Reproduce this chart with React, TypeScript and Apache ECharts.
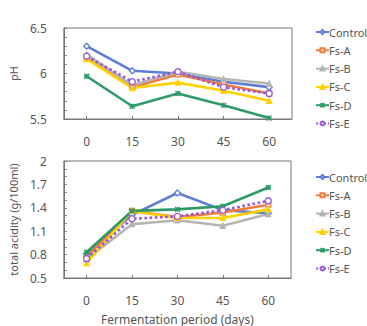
import React, { useEffect, useRef } from "react";
import * as echarts from "echarts";

// Fermentation days (category axis)
const days = ["0", "15", "30", "45", "60"];
const seriesNames = ["Control", "Fs-A", "Fs-B", "Fs-C", "Fs-D", "Fs-E"];

// pH by treatment
const phControl = [6.3, 6.03, 6.0, 5.91, 5.85];
const phFsA = [6.17, 5.85, 5.99, 5.88, 5.78];
const phFsB = [6.21, 5.87, 6.02, 5.94, 5.89];
const phFsC = [6.16, 5.84, 5.9, 5.81, 5.7];
const phFsD = [5.97, 5.64, 5.78, 5.65, 5.51];
const phFsE = [6.19, 5.91, 6.02, 5.85, 5.78];

// total acidity (g/100ml) by treatment
const taControl = [0.81, 1.31, 1.59, 1.37, 1.33];
const taFsA = [0.77, 1.36, 1.28, 1.34, 1.44];
const taFsB = [0.74, 1.19, 1.24, 1.17, 1.32];
const taFsC = [0.69, 1.36, 1.27, 1.27, 1.38];
const taFsD = [0.83, 1.36, 1.38, 1.42, 1.66];
const taFsE = [0.75, 1.26, 1.29, 1.37, 1.49];

// axis tick labels and minor ticks
const phLabels = [5.5, 6, 6.5];
const phTicks = [5.5, 5.6, 5.7, 5.8, 5.9, 6.0, 6.1, 6.2, 6.3, 6.4, 6.5];
const taLabels = [0.5, 0.8, 1.1, 1.4, 1.7, 2];
const taTicks = [0.5, 0.6, 0.7, 0.8, 0.9, 1.0, 1.1, 1.2, 1.3, 1.4, 1.5, 1.6, 1.7, 1.8, 1.9, 2.0];

const FONT = "'Noto Sans', sans-serif";
const TEXT = "#555";
const FRAME = "#777";

type Style = {
  color: string;
  symbol: string;
  symbolSize: number;
  fill: string;
  dotted?: boolean;
};

const styles: Style[] = [
  { color: "#5b7fd6", symbol: "diamond", symbolSize: 6, fill: "#ffffff" },
  { color: "#f07c3c", symbol: "rect", symbolSize: 5, fill: "#ffffff" },
  { color: "#b4b4b4", symbol: "triangle", symbolSize: 5, fill: "#b4b4b4" },
  { color: "#ffd000", symbol: "triangle", symbolSize: 5, fill: "#ffd000" },
  { color: "#2e9a68", symbol: "path://M0,0L10,10M10,0L0,10M5,0L5,10M0,5L10,5", symbolSize: 5, fill: "#2e9a68" },
  { color: "#9656d6", symbol: "circle", symbolSize: 6, fill: "#ffffff", dotted: true },
];

const phData = [phControl, phFsA, phFsB, phFsC, phFsD, phFsE];
const taData = [taControl, taFsA, taFsB, taFsC, taFsD, taFsE];

function makeSeries(data: number[][], idx: number) {
  return data.map((values, i) => {
    const s = styles[i];
    return {
      name: seriesNames[i],
      type: "line",
      xAxisIndex: idx,
      yAxisIndex: idx,
      data: values,
      symbol: s.symbol,
      symbolSize: s.symbolSize,
      showSymbol: true,
      lineStyle: { color: s.color, width: 2.6, type: s.dotted ? "dotted" : "solid" },
      itemStyle: { color: s.fill, borderColor: s.color, borderWidth: 1.3 },
      emphasis: { disabled: true },
    };
  });
}

function makeXAxis(gridIndex: number, withName: boolean) {
  return {
    type: "category",
    gridIndex,
    data: days,
    boundaryGap: true,
    axisLine: { show: true, lineStyle: { color: FRAME } },
    axisTick: { show: true, inside: true, alignWithLabel: true, length: 3, lineStyle: { color: FRAME } },
    axisLabel: { color: TEXT, fontFamily: FONT, fontSize: 12, margin: 16 },
    splitLine: { show: false },
    name: withName ? "Fermentation period (days)" : "",
    nameLocation: "middle",
    nameGap: 35,
    nameTextStyle: { color: TEXT, fontFamily: FONT, fontSize: 12 },
  };
}

function makeYAxis(
  gridIndex: number,
  min: number,
  max: number,
  labels: number[],
  ticks: number[],
  name: string
) {
  return {
    type: "value",
    gridIndex,
    min,
    max,
    axisLine: { show: true, lineStyle: { color: FRAME } },
    axisTick: { show: true, inside: true, length: 3, customValues: ticks, lineStyle: { color: FRAME } },
    axisLabel: {
      color: TEXT,
      fontFamily: FONT,
      fontSize: 12,
      margin: 17,
      customValues: labels,
      formatter: (v: number) => String(Math.round(v * 10) / 10),
    },
    splitLine: { show: false },
    name,
    nameLocation: "middle",
    nameGap: 39,
    nameTextStyle: { color: TEXT, fontFamily: FONT, fontSize: 11 },
  };
}

function makeLegend(top: number) {
  return {
    orient: "vertical",
    left: 310,
    top,
    itemWidth: 13,
    itemHeight: 5,
    itemGap: 7.3,
    data: seriesNames,
    selectedMode: false,
    textStyle: { color: TEXT, fontFamily: FONT, fontSize: 11, padding: [0, 0, 0, -5], lineHeight: 11 },
  };
}

export default function App() {
  const ref = useRef<HTMLDivElement>(null);

  useEffect(() => {
    if (!ref.current) return;
    const chart = echarts.init(ref.current, undefined, { renderer: "svg" });
    chart.setOption({
      animation: false,
      backgroundColor: "#ffffff",
      grid: [
        { left: 49, top: 28, width: 243, height: 91, show: true, borderColor: FRAME, borderWidth: 1 },
        { left: 49, top: 161, width: 242, height: 118, show: true, borderColor: FRAME, borderWidth: 1 },
      ],
      legend: [makeLegend(21.5), makeLegend(166.5)],
      xAxis: [makeXAxis(0, false), makeXAxis(1, true)],
      yAxis: [
        makeYAxis(0, 5.5, 6.5, phLabels, phTicks, "pH"),
        makeYAxis(1, 0.5, 2, taLabels, taTicks, "total acidity (g/100ml)"),
      ],
      series: [...makeSeries(phData, 0), ...makeSeries(taData, 1)],
    });
    return () => chart.dispose();
  }, []);

  return (
    <div
      ref={ref}
      style={{ position: "fixed", left: 0, top: 0, width: 367, height: 326 }}
    />
  );
}
